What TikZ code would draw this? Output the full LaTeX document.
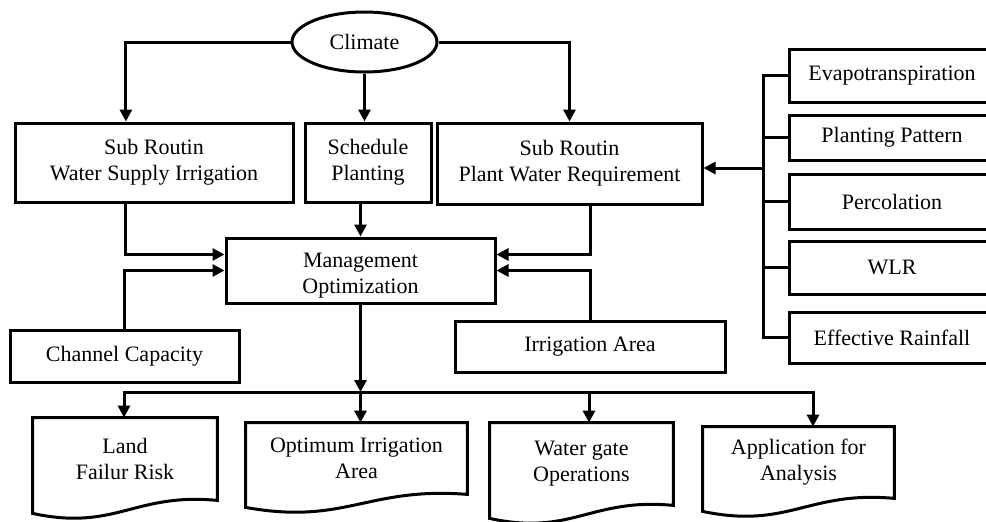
\documentclass[tikz,border=0pt]{standalone}
\usepackage{fontspec}
\setmainfont{Liberation Serif}
\usetikzlibrary{arrows.meta, calc, shapes.geometric}

% outline of a document box with a wavy bottom
\newcommand{\docpath}[1]{%
  \draw[line width=1.5pt] (#1.north west) -- (#1.north east) -- (#1.south east)
    .. controls ($(#1.south west)!0.55!(#1.south east)+(0,-8)$)
    and ($(#1.south west)!0.45!(#1.south east)+(0,31)$)
    .. ($(#1.south west)+(0,13)$) -- cycle;}

\begin{document}
\begin{tikzpicture}[x=0.5pt, y=-0.5pt,
  box/.style={draw, line width=1.5pt, inner sep=0pt, align=center,
    font=\fontsize{11}{13}\selectfont},
  doc/.style={inner sep=0pt, align=center, font=\fontsize{11}{13}\selectfont},
  arr/.style={line width=1.5pt, -{Triangle[length=6pt,width=6pt]}},
  line/.style={line width=1.5pt}]
\useasboundingbox (0,0) rectangle (986,521);

\node[box, ellipse, minimum width=72.5pt, minimum height=30pt] (climate) at (364.5,42) {Climate};

\node[box, minimum width=139pt, minimum height=39.5pt] (sws) at (154,162.5) {Sub Routin\\Water Supply Irrigation};
\node[box, minimum width=63pt, minimum height=39.5pt] (sched) at (368,162.5) {Schedule\\Planting};
\node[box, minimum width=132.5pt, minimum height=40.5pt] (pwr) at (569.5,163.5) {Sub Routin\\Plant Water Requirement};

\node[box, minimum width=134.5pt, minimum height=32.5pt] (mgmt) at (360.5,270.5) {\rule{0pt}{12.5pt}Management\\Optimization};
\node[box, minimum width=114.5pt, minimum height=26pt] (chan) at (124.5,356) {Channel Capacity};
\node[box, minimum width=135pt, minimum height=25.5pt] (irr) at (590,346.5) {Irrigation Area};

% right edges run past the page
\node[box, minimum width=103pt, minimum height=26.5pt] (evap) at (892,75.5) {Evapotranspiration};
\node[box, minimum width=103pt, minimum height=22.5pt] (plant) at (892,137.5) {Planting Pattern};
\node[box, minimum width=103pt, minimum height=27.5pt] (perc) at (892,201.5) {Percolation};
\node[box, minimum width=103pt, minimum height=26.5pt] (wlr) at (892,267.5) {WLR};
\node[box, minimum width=103pt, minimum height=25.5pt] (rain) at (892,337.5) {Effective Rainfall};

\node[doc, minimum width=92pt, minimum height=41pt] (land) at (125,459) {Land\\Failur Risk};
\node[doc, minimum width=110.5pt, minimum height=35.5pt] (opt) at (356.5,458.5) {Optimum Irrigation\\Area};
\node[doc, minimum width=91.5pt, minimum height=41pt] (gate) at (581.5,464) {Water gate\\Operations};
\node[doc, minimum width=95.5pt, minimum height=35.5pt] (app) at (798.5,462.5) {Application for\\Analysis};
\foreach \n in {land, opt, gate, app}
  \docpath{\n};

% climate
\draw[arr] (climate.west) -| ($(sws.north west)!0.4!(sws.north east)$);
\draw[arr] (climate.south) -- (climate.south |- sched.north);
\draw[arr] (climate.east) -| (pwr.north);

% into management
\draw[arr] ($(sws.south west)!0.4!(sws.south east)$) |- ($(mgmt.north west)+(0,18)$);
\draw[arr] (chan.north) |- ($(mgmt.north west)+(0,34)$);
\draw[arr] (mgmt.north |- sched.south) -- (mgmt.north);
\draw[arr] ($(pwr.south west)!0.58!(pwr.south east)$) |- ($(mgmt.north east)+(0,18)$);
\draw[arr] (irr.north) |- ($(mgmt.north east)+(0,34)$);

% factors of plant water requirement
\coordinate (rb) at (763,168);
\draw[line] (evap.west) -| (rb |- rain.west) -- (rain.west);
\foreach \n in {plant, perc, wlr}
  \draw[line] (\n.west) -- (rb |- \n.west);
\draw[arr] (rb) -- (rb -| pwr.east);

% outputs
\coordinate (bl) at (124,392);
\coordinate (bg) at (589,392);
\coordinate (br) at (813,392);
\draw[arr] (mgmt.south) -- (mgmt.south |- bl);
\draw[arr] (mgmt.south |- bl) -| (bl |- land.north);
\draw[arr] (mgmt.south |- bl) -| (br |- app.north);
\draw[arr] (mgmt.south |- bl) -- (mgmt.south |- opt.north);
\draw[arr] (bg) -- (bg |- gate.north);
\end{tikzpicture}
\end{document}
